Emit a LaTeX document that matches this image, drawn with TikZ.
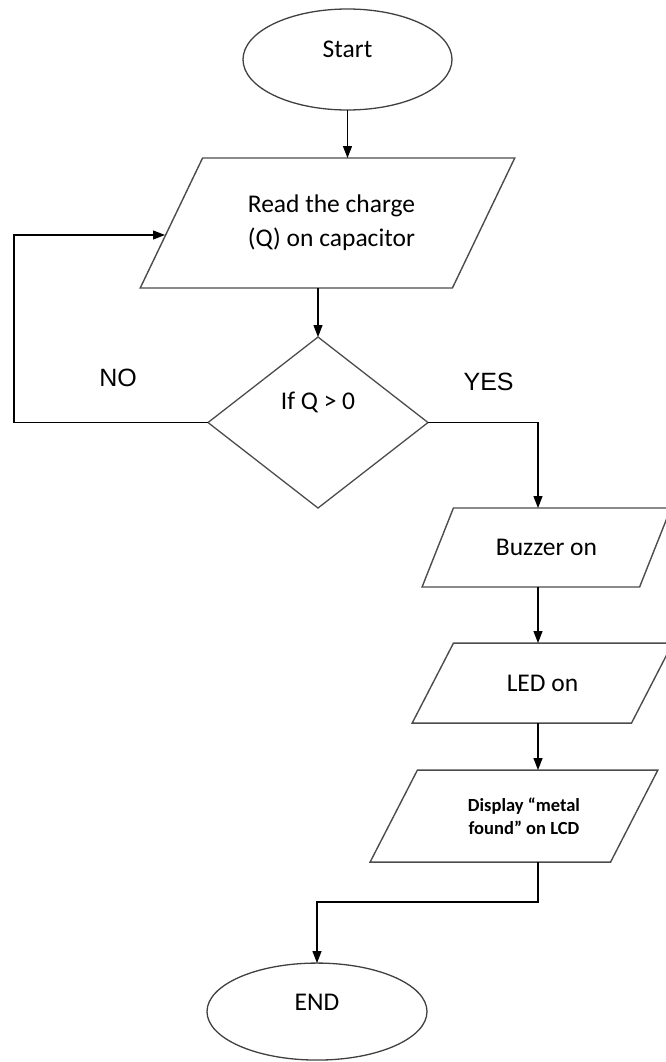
\documentclass[tikz,border=0pt]{standalone}
\usepackage{fontspec}
\setmainfont{Carlito}
\newfontfamily\labelfont{Liberation Sans}
\usepackage{tikz}
\usetikzlibrary{positioning,shapes.geometric,arrows.meta}

\begin{document}
\begin{tikzpicture}[
x=1pt, y=-1pt,
>={Triangle[width=9pt,length=12pt]},
line width=1.2pt,
terminal/.style={ellipse, draw=black!75, line width=1.3pt, outer sep=0pt, font=\fontsize{25.5}{34}\selectfont},
iobox/.style={trapezium, trapezium left angle=52, trapezium right angle=128, trapezium stretches=true, draw=black!70, line width=1.4pt, outer sep=0pt, align=center, font=\fontsize{25.5}{34}\selectfont},
decision/.style={diamond, draw=black!70, line width=1.3pt, outer sep=0pt, minimum width=220pt, minimum height=171pt, font=\fontsize{25.5}{34}\selectfont},
lbl/.style={inner sep=0pt, font=\labelfont\fontsize{25}{30}\selectfont},
]
\useasboundingbox (0,0) rectangle (666,1062);

\node[terminal, minimum width=209pt, minimum height=101pt, text depth=20pt] (start) at (347.5,59.5) {Start};
\node[iobox, trapezium left angle=54, trapezium right angle=126, minimum width=375pt, minimum height=130pt] (read) [below=48pt of start, xshift=-20pt] {\hspace*{8pt}Read the charge\\\hspace*{8pt}(Q) on capacitor};
\node[decision, text depth=44pt] (dec) [below=49pt of read, xshift=-9.5pt] {If Q > 0};
\node[iobox, minimum width=249pt, minimum height=79pt] (buzz) [below=0pt of dec, xshift=228.5pt] {Buzzer on};
\node[iobox, minimum width=261pt, minimum height=80pt] (led) [below=56pt of buzz, xshift=-4pt] {LED on};
\node[iobox, minimum width=288pt, minimum height=92pt, font=\bfseries\fontsize{18.5}{23}\selectfont] (disp) [below=47pt of led, xshift=-28.5pt] {\hspace*{20pt}Display “metal\\\hspace*{20pt}found” on LCD};
\node[terminal, minimum width=220pt, minimum height=97pt, text depth=18pt] (end) [below=101pt of disp, xshift=-197pt] {END};

%Branch labels
\node[lbl] (no) [above left=35pt and 70.5pt of dec.west] {NO};
\node[lbl] (yes) [above right=31pt and 35pt of dec.east] {YES};

%Helper points
\coordinate (col) at (538,0);
\coordinate (readin) at (165,235);

%Main flow
\draw[->] (start.south) -- (start.south |- read.north);
\draw[->] (dec.north |- read.south) -- (dec.north);

%NO loop
\draw[->] (dec.west) -- ++(-194,0) |- (readin);

%YES branch
\draw[->] (dec.east) -| (col |- buzz.north);
\draw[->] (col |- buzz.south) -- (col |- led.north);
\draw[->] (col |- led.south) -- (col |- disp.north);
\draw[->] (col |- disp.south) -- ++(0,40) -| (end.north);
\end{tikzpicture}
\end{document}
